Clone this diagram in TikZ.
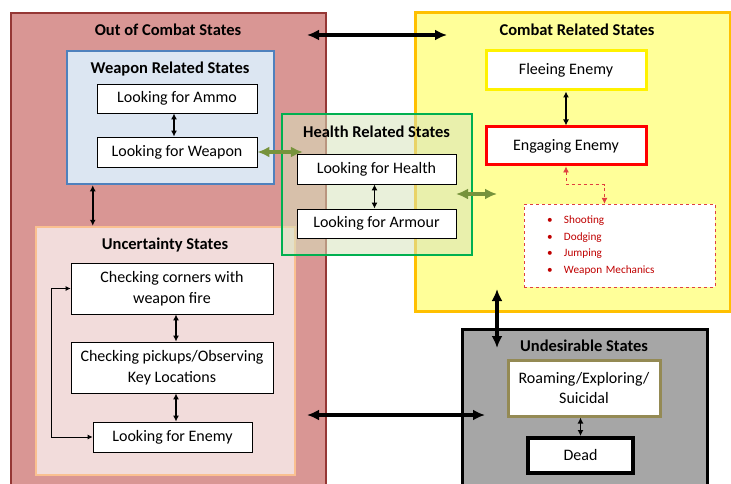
\documentclass[tikz,border=0pt]{standalone}
\usepackage{fontspec}
\setmainfont{Carlito}
\usepackage{tikz}
\usetikzlibrary{arrows.meta}

\definecolor{oocfill}{HTML}{D99694}
\definecolor{oocline}{HTML}{953735}
\definecolor{wpnfill}{HTML}{DCE6F2}
\definecolor{wpnline}{HTML}{4F81BD}
\definecolor{uncfill}{HTML}{F2DCDB}
\definecolor{uncline}{HTML}{FAC090}
\definecolor{hpline}{HTML}{00B050}
\definecolor{hpfill}{HTML}{D7E4BD}
\definecolor{cmbfill}{HTML}{FFFF99}
\definecolor{cmbline}{HTML}{FFC000}
\definecolor{undfill}{HTML}{A6A6A6}
\definecolor{olivearrow}{HTML}{77933C}
\definecolor{roamline}{HTML}{948A54}
\definecolor{moveline}{HTML}{E04040}
\definecolor{movetext}{HTML}{C00000}

\begin{document}
\begin{tikzpicture}[x=1pt,y=-1pt,
  area/.style={draw,line width=2.5pt,inner sep=0pt},
  state/.style={draw,line width=0.8pt,fill=white,inner sep=0pt,align=center,font=\fontsize{16}{20.5}\selectfont},
  title/.style={inner sep=0pt,font=\fontsize{16.5}{20}\selectfont\bfseries},
  link/.style={{Latex[length=6pt,width=6pt]}-{Latex[length=6pt,width=6pt]},line width=1.2pt},
  biglink/.style={{Latex[length=12pt,width=11pt]}-{Latex[length=12pt,width=11pt]},line width=3.2pt}]
\clip (0,0) rectangle (731,484);
\fill[white] (0,0) rectangle (731,484);

% Out of Combat States
\node[area,draw=oocline,fill=oocfill,minimum width=315,minimum height=482] (ooc) at (168.5,254) {};
\node[title] (ooctitle) at (168,30) {Out of Combat States};

% Weapon Related States
\node[area,draw=wpnline,fill=wpnfill,minimum width=207,minimum height=133] (wpnarea) at (170.5,117.5) {};
\node[title] (wpntitle) at (170,69) {Weapon Related States};
\node[state,minimum width=160,minimum height=29] (ammo) at (177,98.5) {Looking for Ammo};
\node[state,minimum width=160,minimum height=30] (weapon) at (177,152) {Looking for Weapon};
\draw[link] ([xshift=-3]ammo.south) -- ([xshift=-3]weapon.north);

% Uncertainty States
\node[area,draw=uncline,fill=uncfill,minimum width=259,minimum height=248] (uncarea) at (165.5,351) {};
\node[title] (unctitle) at (165,245) {Uncertainty States};
\node[state,minimum width=202,minimum height=51] (corners) at (172,288.5) {Checking corners with\\weapon fire};
\node[state,minimum width=202,minimum height=51] (pickups) at (172,367.5) {Checking pickups/Observing\\Key Locations};
\node[state,minimum width=159,minimum height=30] (enemy) at (172.5,437) {Looking for Enemy};
\draw[link] ([xshift=4]corners.south) -- ([xshift=4]pickups.north);
\draw[link] ([xshift=4]pickups.south) -- ([xshift=3.5]enemy.north);
\draw[{Latex[length=5pt,width=5pt]}-{Latex[length=5pt,width=5pt]},line width=0.8pt] (corners.west) -- ++(-19,0) |- (enemy.west);
\draw[link,line width=1.8pt] ([xshift=27]wpnarea.south west) -- ([xshift=58]uncarea.north west);

% Combat Related States
\node[area,line width=3pt,draw=cmbline,fill=cmbfill,minimum width=315,minimum height=298] (cmbarea) at (572.5,162) {};
\node[title] (cmbtitle) at (577,30) {Combat Related States};
\node[state,line width=3pt,draw=yellow,minimum width=160,minimum height=39] (fleeing) at (566,70.5) {Fleeing Enemy};
\node[state,line width=3pt,draw=red,minimum width=160,minimum height=38] (engaging) at (566,146) {Engaging Enemy};
\draw[link] (fleeing.south) -- (engaging.north);
\node[draw=moveline,dashed,fill=white,inner sep=0pt,minimum width=191,minimum height=83,text width=145,align=left,text=movetext,font=\fontsize{11.2}{16.7}\selectfont] (moves) at (619.5,245.5)
  {\makebox[17pt][l]{\textbullet}Shooting\\\makebox[17pt][l]{\textbullet}Dodging\\\makebox[17pt][l]{\textbullet}Jumping\\\makebox[17pt][l]{\textbullet}Weapon Mechanics};
\draw[{Latex[length=6pt,width=6pt]}-{Latex[length=6pt,width=6pt]},dashed,moveline,line width=0.8pt] (engaging.south) -- ++(0,18) -| ([xshift=-15]moves.north);

% Health Related States
\node[area,draw=hpline,fill=hpfill,fill opacity=0.55,minimum width=190,minimum height=141] (hparea) at (377,184.5) {};
\node[title] (hptitle) at (376.5,132) {Health Related States};
\node[state,minimum width=159,minimum height=30] (health) at (376.5,169) {Looking for Health};
\node[state,minimum width=159,minimum height=29] (armour) at (376.5,223.5) {Looking for Armour};
\draw[link] ([xshift=-2]health.south) -- ([xshift=-2]armour.north);

% Undesirable States
\node[area,line width=3pt,draw=black,fill=undfill,minimum width=245,minimum height=166] (undarea) at (584.5,412) {};
\node[title] (undtitle) at (584,346) {Undesirable States};
\node[state,line width=3pt,draw=roamline,minimum width=152,minimum height=56] (roaming) at (584,388) {Roaming/Exploring/\\Suicidal};
\node[state,line width=4pt,draw=black,minimum width=105,minimum height=35] (dead) at (580.5,455.5) {Dead};
\draw[link] (dead.north) -- (dead.north |- roaming.south);

% links between the areas
\coordinate (topL) at (307,35);
\coordinate (topR) at (447,35);
\coordinate (midL) at (307,415);
\coordinate (midR) at (485,415);
\coordinate (cmbB) at (497,289);
\coordinate (undT) at (497,348);
\coordinate (hpL) at (456,194);
\coordinate (hpR) at (497,194);
\draw[biglink] (topL) -- (topR);
\draw[biglink] (midL) -- (midR);
\draw[biglink] (cmbB) -- (undT);
\draw[biglink,olivearrow] (weapon.east) -- (weapon.east -| hptitle.west);
\draw[biglink,olivearrow] (hpL) -- (hpR);
\end{tikzpicture}
\end{document}
